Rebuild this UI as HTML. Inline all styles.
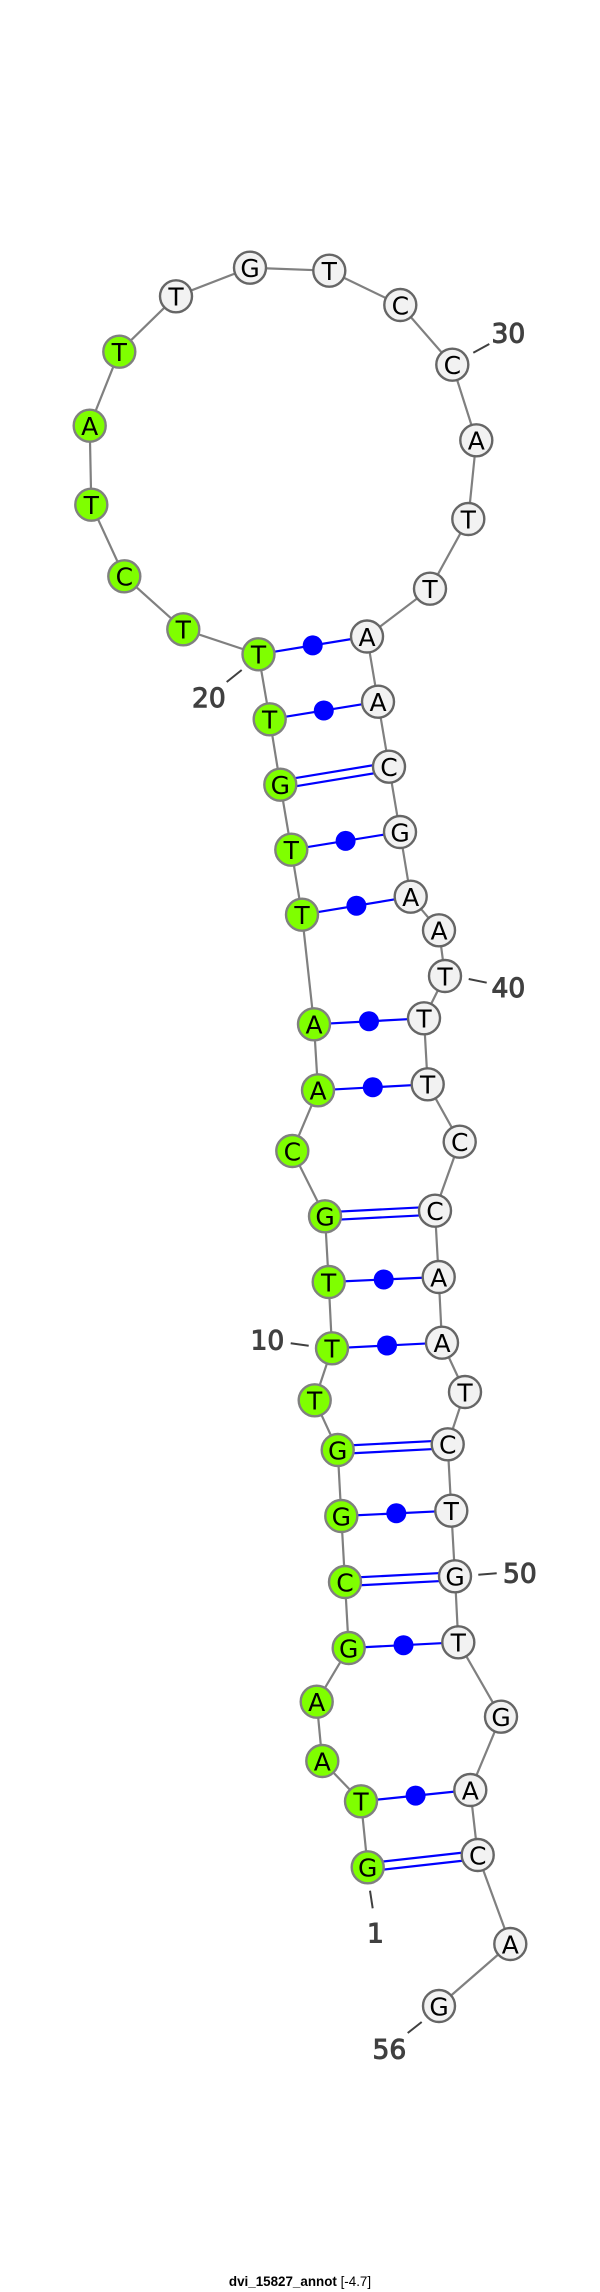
<!DOCTYPE html>
<html><head><meta charset="utf-8"><style>
html,body{margin:0;padding:0;background:#fff}
svg{display:block}
.n{font-family:"DejaVu Sans",sans-serif;font-size:25px;text-anchor:middle;fill:#000}
.l{font-family:"DejaVu Sans",sans-serif;font-size:26.5px;fill:#404040;stroke:#404040;stroke-width:1}
.b{stroke:#808080;stroke-width:2.2;fill:none}
.p{stroke:#0000ff;stroke-width:2.2}
.d{fill:#0000ff}
.k{stroke:#404040;stroke-width:2}
.g circle{fill:#7fff00;stroke:#808080;stroke-width:2.4}
.w circle{fill:#f2f2f2;stroke:#666;stroke-width:2.4}
</style></head><body>
<svg width="600" height="2292" viewBox="0 0 600 2292" xmlns="http://www.w3.org/2000/svg">
<rect width="600" height="2292" fill="#fff"/>
<polyline class="b" points="367.7,1867.3 361,1801.3 322.3,1761 316.7,1701.7 348.7,1648 345,1582 341.3,1516 337.7,1450 314.7,1400.3 332,1348.3 328.7,1282 325,1216.3 292.3,1151 318,1090.3 314,1024.3 302,914.7 291.3,849.7 280.3,784.7 269.7,719.3 258.5,654.3 183.3,629.3 124.3,576.3 91.3,504.7 89.7,425.7 119.3,351.7 176,296.3 250,267.7 329.3,270.7 400.3,305 452.3,364.7 476.3,440.3 468.3,519 430,588.7 367,636.5 378,701.7 389,766.7 400,832 410.7,896.7 439,930.3 445,976 424,1018.3 427.7,1084.3 459.7,1141.7 435,1210.7 438.7,1277 442,1342.7 465,1392 447.7,1444.3 451.3,1510.7 455,1576.3 458.3,1642.3 501,1716.7 470.3,1790 477.7,1855 510.3,1944 439,2006"/>
<g class="p">
<line x1="258.5" y1="654.3" x2="367" y2="636.5"/>
<line x1="269.7" y1="719.3" x2="378" y2="701.7"/>
<line x1="279.6" y1="780.7" x2="388.3" y2="762.7"/>
<line x1="281" y1="788.7" x2="389.7" y2="770.7"/>
<line x1="291.3" y1="849.7" x2="400" y2="832"/>
<line x1="302" y1="914.7" x2="410.7" y2="896.7"/>
<line x1="314" y1="1024.3" x2="424" y2="1018.3"/>
<line x1="318" y1="1090.3" x2="427.7" y2="1084.3"/>
<line x1="324.8" y1="1212.3" x2="434.8" y2="1206.7"/>
<line x1="325.2" y1="1220.3" x2="435.2" y2="1214.7"/>
<line x1="328.7" y1="1282" x2="438.7" y2="1277"/>
<line x1="332" y1="1348.3" x2="442" y2="1342.7"/>
<line x1="337.5" y1="1446" x2="447.5" y2="1440.3"/>
<line x1="337.9" y1="1454" x2="447.9" y2="1448.3"/>
<line x1="341.3" y1="1516" x2="451.3" y2="1510.7"/>
<line x1="344.8" y1="1578" x2="454.8" y2="1572.3"/>
<line x1="345.2" y1="1586" x2="455.2" y2="1580.3"/>
<line x1="348.7" y1="1648" x2="458.3" y2="1642.3"/>
<line x1="361" y1="1801.3" x2="470.3" y2="1790"/>
<line x1="367.3" y1="1863.3" x2="477.3" y2="1851"/>
<line x1="368.1" y1="1871.3" x2="478.1" y2="1859"/>
</g>
<g class="d">
<circle cx="312.7" cy="645.4" r="10"/>
<circle cx="323.8" cy="710.5" r="10"/>
<circle cx="345.6" cy="840.9" r="10"/>
<circle cx="356.4" cy="905.7" r="10"/>
<circle cx="369" cy="1021.3" r="10"/>
<circle cx="372.8" cy="1087.3" r="10"/>
<circle cx="383.7" cy="1279.5" r="10"/>
<circle cx="387" cy="1345.5" r="10"/>
<circle cx="396.3" cy="1513.3" r="10"/>
<circle cx="403.5" cy="1645.2" r="10"/>
<circle cx="415.6" cy="1795.6" r="10"/>
</g>
<g class="k">
<line x1="473.3" y1="352.7" x2="489.3" y2="344"/>
<line x1="226.7" y1="682" x2="241.7" y2="670"/>
<line x1="468.7" y1="979" x2="486.7" y2="982.7"/>
<line x1="290.7" y1="1343.3" x2="308.7" y2="1345.7"/>
<line x1="478.3" y1="1574.7" x2="496.7" y2="1573.3"/>
<line x1="370" y1="1890.7" x2="372.7" y2="1908.3"/>
<line x1="407.7" y1="2033" x2="421.7" y2="2022"/>
</g>
<g class="g">
<circle cx="367.7" cy="1867.3" r="16"/><circle cx="361" cy="1801.3" r="16"/><circle cx="322.3" cy="1761" r="16"/><circle cx="316.7" cy="1701.7" r="16"/><circle cx="348.7" cy="1648" r="16"/><circle cx="345" cy="1582" r="16"/><circle cx="341.3" cy="1516" r="16"/><circle cx="337.7" cy="1450" r="16"/><circle cx="314.7" cy="1400.3" r="16"/><circle cx="332" cy="1348.3" r="16"/><circle cx="328.7" cy="1282" r="16"/><circle cx="325" cy="1216.3" r="16"/><circle cx="292.3" cy="1151" r="16"/><circle cx="318" cy="1090.3" r="16"/><circle cx="314" cy="1024.3" r="16"/><circle cx="302" cy="914.7" r="16"/><circle cx="291.3" cy="849.7" r="16"/><circle cx="280.3" cy="784.7" r="16"/><circle cx="269.7" cy="719.3" r="16"/><circle cx="258.5" cy="654.3" r="16"/><circle cx="183.3" cy="629.3" r="16"/><circle cx="124.3" cy="576.3" r="16"/><circle cx="91.3" cy="504.7" r="16"/><circle cx="89.7" cy="425.7" r="16"/><circle cx="119.3" cy="351.7" r="16"/>
</g>
<g class="w">
<circle cx="176" cy="296.3" r="16"/><circle cx="250" cy="267.7" r="16"/><circle cx="329.3" cy="270.7" r="16"/><circle cx="400.3" cy="305" r="16"/><circle cx="452.3" cy="364.7" r="16"/><circle cx="476.3" cy="440.3" r="16"/><circle cx="468.3" cy="519" r="16"/><circle cx="430" cy="588.7" r="16"/><circle cx="367" cy="636.5" r="16"/><circle cx="378" cy="701.7" r="16"/><circle cx="389" cy="766.7" r="16"/><circle cx="400" cy="832" r="16"/><circle cx="410.7" cy="896.7" r="16"/><circle cx="439" cy="930.3" r="16"/><circle cx="445" cy="976" r="16"/><circle cx="424" cy="1018.3" r="16"/><circle cx="427.7" cy="1084.3" r="16"/><circle cx="459.7" cy="1141.7" r="16"/><circle cx="435" cy="1210.7" r="16"/><circle cx="438.7" cy="1277" r="16"/><circle cx="442" cy="1342.7" r="16"/><circle cx="465" cy="1392" r="16"/><circle cx="447.7" cy="1444.3" r="16"/><circle cx="451.3" cy="1510.7" r="16"/><circle cx="455" cy="1576.3" r="16"/><circle cx="458.3" cy="1642.3" r="16"/><circle cx="501" cy="1716.7" r="16"/><circle cx="470.3" cy="1790" r="16"/><circle cx="477.7" cy="1855" r="16"/><circle cx="510.3" cy="1944" r="16"/><circle cx="439" cy="2006" r="16"/>
</g>
<g class="n">
<text x="367.7" y="1876.6">G</text><text x="361" y="1810.6">T</text><text x="322.3" y="1770.3">A</text><text x="316.7" y="1711">A</text><text x="348.7" y="1657.3">G</text><text x="345" y="1591.3">C</text><text x="341.3" y="1525.3">G</text><text x="337.7" y="1459.3">G</text><text x="314.7" y="1409.6">T</text><text x="332" y="1357.6">T</text><text x="328.7" y="1291.3">T</text><text x="325" y="1225.6">G</text><text x="292.3" y="1160.3">C</text><text x="318" y="1099.6">A</text><text x="314" y="1033.6">A</text><text x="302" y="924">T</text><text x="291.3" y="859">T</text><text x="280.3" y="794">G</text><text x="269.7" y="728.6">T</text><text x="258.5" y="663.6">T</text><text x="183.3" y="638.6">T</text><text x="124.3" y="585.6">C</text><text x="91.3" y="514">T</text><text x="89.7" y="435">A</text><text x="119.3" y="361">T</text>
<text x="176" y="305.6">T</text><text x="250" y="277">G</text><text x="329.3" y="280">T</text><text x="400.3" y="314.3">C</text><text x="452.3" y="374">C</text><text x="476.3" y="449.6">A</text><text x="468.3" y="528.3">T</text><text x="430" y="598">T</text><text x="367" y="645.8">A</text><text x="378" y="711">A</text><text x="389" y="776">C</text><text x="400" y="841.3">G</text><text x="410.7" y="906">A</text><text x="439" y="939.6">A</text><text x="445" y="985.3">T</text><text x="424" y="1027.6">T</text><text x="427.7" y="1093.6">T</text><text x="459.7" y="1151">C</text><text x="435" y="1220">C</text><text x="438.7" y="1286.3">A</text><text x="442" y="1352">A</text><text x="465" y="1401.3">T</text><text x="447.7" y="1453.6">C</text><text x="451.3" y="1520">T</text><text x="455" y="1585.6">G</text><text x="458.3" y="1651.6">T</text><text x="501" y="1726">G</text><text x="470.3" y="1799.3">A</text><text x="477.7" y="1864.3">C</text><text x="510.3" y="1953.3">A</text><text x="439" y="2015.3">G</text>
</g>
<g class="l">
<text x="491.5" y="342.5">30</text>
<text x="192" y="707">20</text>
<text x="491.5" y="997">40</text>
<text x="250.5" y="1349.5">10</text>
<text x="503" y="1582.5">50</text>
<text x="367" y="1942.5">1</text>
<text x="372.5" y="2058.5">56</text>
</g>
<text x="300" y="2286" text-anchor="middle" font-family="'Liberation Sans',sans-serif" font-size="13.4" fill="#000"><tspan font-weight="bold">dvi_15827_annot</tspan> [-4.7]</text>
</svg>
</body></html>
